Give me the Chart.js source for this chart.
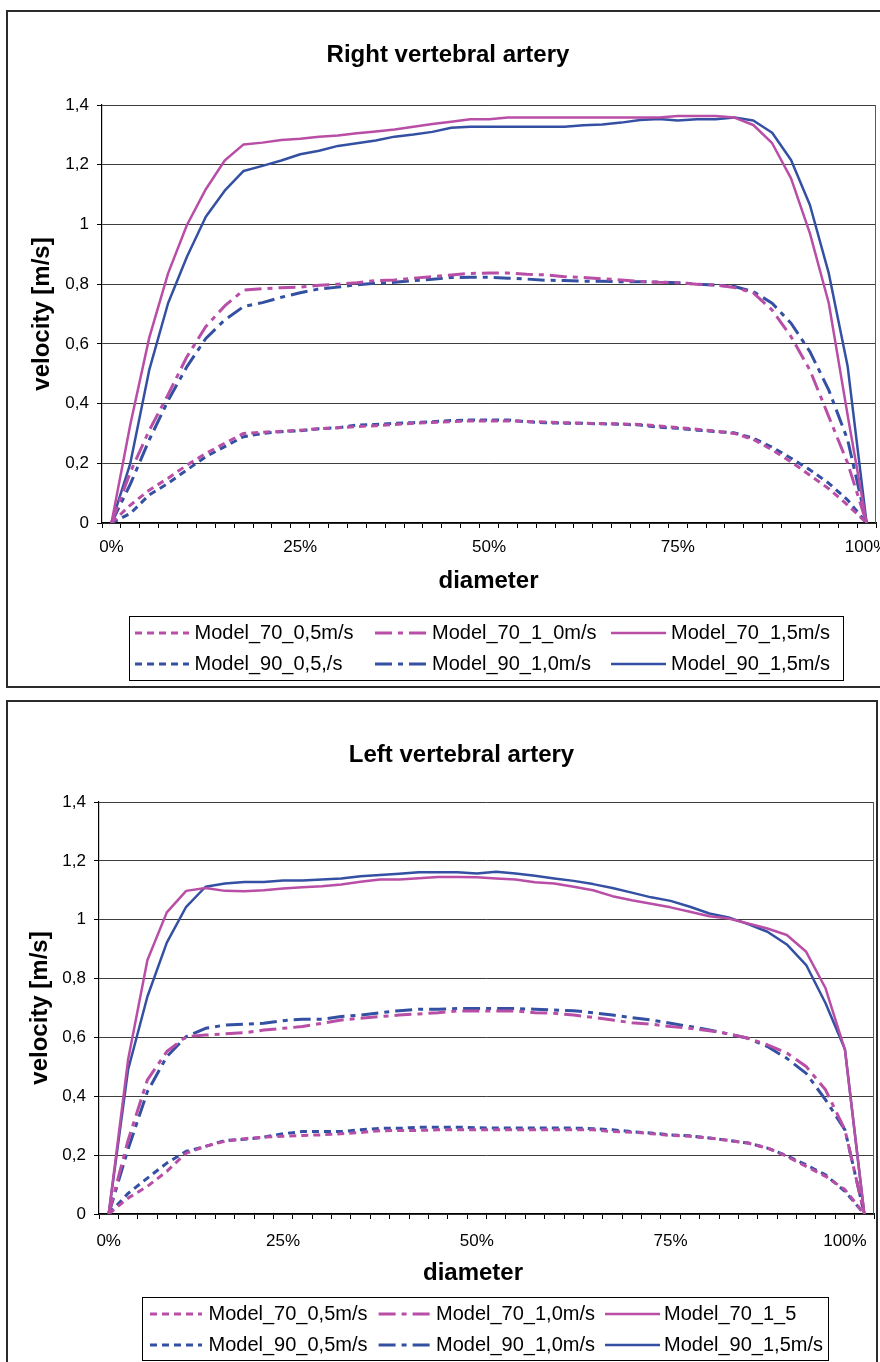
<!DOCTYPE html>
<html>
<head>
<meta charset="utf-8">
<title>Vertebral artery velocity profiles</title>
<script src="https://cdn.jsdelivr.net/npm/chart.js@4.4.1/dist/chart.umd.min.js"></script>
<style>
  html, body { margin: 0; padding: 0; background: #fff; }
  body { width: 880px; height: 1362px; position: relative; overflow: hidden; }
  .frame { position: absolute; border: 2px solid #2b2b2b; box-sizing: border-box; }
  #frameRight { left: 6px; top: 10px; width: 900px; height: 678px; }
  #frameLeft { left: 6px; top: 700px; width: 872px; height: 720px; }
  .panel { position: absolute; left: 0; width: 880px; }
  #panelRight { top: 0; height: 690px; }
  #panelLeft { top: 690px; height: 672px; }
  canvas { display: block; }
</style>
</head>
<body>
<div class="frame" id="frameRight"></div>
<div class="frame" id="frameLeft"></div>
<div class="panel" id="panelRight"><canvas id="rightChart" width="880" height="690"></canvas></div>
<div class="panel" id="panelLeft"><canvas id="leftChart" width="880" height="672"></canvas></div>
<script>
// ---- Right vertebral artery: 41 samples across the diameter ----
const rightTickLabels = ['0%', '25%', '50%', '75%', '100%'];
const rightTickIndex = [0, 10, 20, 30, 40];
const rightSeriesNames = ['Model_70_0,5m/s', 'Model_70_1_0m/s', 'Model_70_1,5m/s',
                          'Model_90_0,5,/s', 'Model_90_1,0m/s', 'Model_90_1,5m/s'];
const rightM70v05 = [0, 0.06, 0.11, 0.15, 0.194, 0.233, 0.267, 0.30, 0.304, 0.307,
  0.311, 0.316, 0.319, 0.323, 0.326, 0.33, 0.334, 0.337, 0.339, 0.342,
  0.342, 0.342, 0.34, 0.338, 0.336, 0.334, 0.333, 0.332, 0.33, 0.325,
  0.32, 0.314, 0.308, 0.30, 0.28, 0.245, 0.205, 0.16, 0.115, 0.06, 0];
const rightM70v10 = [0, 0.17, 0.31, 0.43, 0.557, 0.658, 0.727, 0.78, 0.785, 0.788,
  0.79, 0.796, 0.80, 0.805, 0.812, 0.814, 0.82, 0.825, 0.831, 0.836,
  0.837, 0.837, 0.833, 0.831, 0.825, 0.822, 0.818, 0.814, 0.809, 0.806,
  0.805, 0.80, 0.797, 0.789, 0.771, 0.713, 0.624, 0.512, 0.356, 0.2, 0];
const rightM70v15 = [0, 0.33, 0.62, 0.836, 0.998, 1.118, 1.214, 1.268, 1.274, 1.283,
  1.287, 1.294, 1.298, 1.305, 1.311, 1.318, 1.327, 1.336, 1.344, 1.352,
  1.352, 1.358, 1.358, 1.358, 1.358, 1.358, 1.358, 1.358, 1.358, 1.358,
  1.363, 1.363, 1.363, 1.358, 1.333, 1.272, 1.154, 0.97, 0.736, 0.36, 0];
const rightM90v05 = [0, 0.032, 0.094, 0.133, 0.178, 0.222, 0.256, 0.289, 0.30, 0.306,
  0.309, 0.316, 0.319, 0.328, 0.33, 0.334, 0.336, 0.339, 0.343, 0.345,
  0.345, 0.345, 0.339, 0.336, 0.334, 0.334, 0.332, 0.331, 0.328, 0.321,
  0.317, 0.311, 0.306, 0.302, 0.284, 0.254, 0.217, 0.178, 0.133, 0.077, 0];
const rightM90v10 = [0, 0.13, 0.278, 0.41, 0.524, 0.618, 0.68, 0.725, 0.738, 0.756,
  0.771, 0.784, 0.79, 0.798, 0.803, 0.806, 0.812, 0.816, 0.822, 0.823,
  0.823, 0.82, 0.817, 0.813, 0.812, 0.81, 0.81, 0.808, 0.808, 0.807,
  0.805, 0.80, 0.797, 0.792, 0.775, 0.736, 0.669, 0.574, 0.445, 0.278, 0];
const rightM90v15 = [0, 0.2, 0.512, 0.736, 0.892, 1.026, 1.113, 1.179, 1.196, 1.214,
  1.235, 1.247, 1.263, 1.272, 1.281, 1.294, 1.301, 1.31, 1.324, 1.327,
  1.327, 1.327, 1.327, 1.327, 1.327, 1.332, 1.335, 1.341, 1.35, 1.353,
  1.348, 1.352, 1.352, 1.358, 1.348, 1.307, 1.216, 1.065, 0.836, 0.524, 0];

// ---- Left vertebral artery: 40 samples across the diameter ----
const leftTickLabels = ['0%', '25%', '50%', '75%', '100%'];
const leftTickIndex = [0, 9, 19, 29, 38];
const leftSeriesNames = ['Model_70_0,5m/s', 'Model_70_1,0m/s', 'Model_70_1_5',
                         'Model_90_0,5m/s', 'Model_90_1,0m/s', 'Model_90_1,5m/s'];
const leftM70v05 = [0, 0.054, 0.094, 0.145, 0.207, 0.23, 0.247, 0.256, 0.261, 0.264,
  0.267, 0.269, 0.273, 0.277, 0.283, 0.284, 0.284, 0.286, 0.286, 0.286,
  0.286, 0.286, 0.286, 0.286, 0.286, 0.286, 0.28, 0.278, 0.273, 0.267,
  0.264, 0.258, 0.25, 0.241, 0.224, 0.196, 0.162, 0.128, 0.083, 0];
const leftM70v10 = [0, 0.25, 0.456, 0.552, 0.603, 0.608, 0.612, 0.616, 0.625, 0.631,
  0.637, 0.648, 0.659, 0.665, 0.671, 0.676, 0.68, 0.684, 0.69, 0.69,
  0.69, 0.69, 0.684, 0.682, 0.676, 0.668, 0.659, 0.65, 0.645, 0.637,
  0.631, 0.623, 0.612, 0.597, 0.575, 0.547, 0.501, 0.422, 0.286, 0];
const leftM70v15 = [0, 0.524, 0.863, 1.025, 1.098, 1.108, 1.098, 1.097, 1.10, 1.106,
  1.11, 1.114, 1.12, 1.129, 1.137, 1.137, 1.141, 1.145, 1.145, 1.144,
  1.14, 1.137, 1.127, 1.123, 1.112, 1.10, 1.08, 1.066, 1.054, 1.042,
  1.027, 1.012, 1.004, 0.987, 0.97, 0.948, 0.891, 0.767, 0.558, 0];
const leftM90v05 = [0, 0.07, 0.122, 0.173, 0.213, 0.23, 0.25, 0.254, 0.261, 0.273,
  0.28, 0.28, 0.28, 0.286, 0.291, 0.291, 0.295, 0.295, 0.295, 0.293,
  0.292, 0.292, 0.292, 0.292, 0.292, 0.29, 0.286, 0.28, 0.275, 0.269,
  0.266, 0.258, 0.25, 0.241, 0.224, 0.198, 0.167, 0.133, 0.077, 0];
const leftM90v10 = [0, 0.22, 0.416, 0.535, 0.603, 0.631, 0.642, 0.645, 0.648, 0.657,
  0.662, 0.662, 0.671, 0.676, 0.684, 0.691, 0.696, 0.696, 0.698, 0.698,
  0.698, 0.698, 0.696, 0.693, 0.691, 0.684, 0.676, 0.667, 0.659, 0.648,
  0.637, 0.625, 0.612, 0.597, 0.569, 0.529, 0.478, 0.388, 0.286, 0];
const leftM90v15 = [0, 0.49, 0.739, 0.922, 1.044, 1.112, 1.123, 1.128, 1.128, 1.133,
  1.133, 1.137, 1.14, 1.148, 1.152, 1.156, 1.161, 1.161, 1.161, 1.157,
  1.163, 1.157, 1.149, 1.14, 1.132, 1.121, 1.108, 1.092, 1.076, 1.064,
  1.044, 1.021, 1.008, 0.985, 0.959, 0.916, 0.846, 0.716, 0.56, 0];

// ---- shared velocity axis ----
const yTickLabels = ['0', '0,2', '0,4', '0,6', '0,8', '1', '1,2', '1,4'];

// ---- look ----
const FAMILY = "'Liberation Sans', Arial, Helvetica, sans-serif";
const MAGENTA = '#B94EA7';
const BLUE = '#3450A2';
const DOTTED = [7, 5];
const DASH_DOT = [17, 6, 5, 6];
const lineLooks = [
  { color: MAGENTA, dash: DOTTED, width: 3 },
  { color: MAGENTA, dash: DASH_DOT, width: 3 },
  { color: MAGENTA, dash: [], width: 2.5 },
  { color: BLUE, dash: DOTTED, width: 3 },
  { color: BLUE, dash: DASH_DOT, width: 3 },
  { color: BLUE, dash: [], width: 2.5 }
];

Chart.defaults.font.family = FAMILY;
Chart.defaults.color = '#000';

// category labels: blank except at the marked positions
function categoryLabels(count, at, text) {
  const out = new Array(count).fill('');
  at.forEach((idx, k) => { out[idx] = text[k]; });
  return out;
}

function buildDatasets(names, series) {
  return series.map((values, k) => ({
    label: names[k],
    data: values,
    borderColor: lineLooks[k].color,
    backgroundColor: lineLooks[k].color,
    borderDash: lineLooks[k].dash,
    borderWidth: lineLooks[k].width,
    borderCapStyle: 'butt',
    borderJoinStyle: 'round',
    pointRadius: 0,
    pointHoverRadius: 0,
    tension: 0,
    fill: false
  }));
}

// right edge of the plot area
const plotEdge = {
  id: 'plotEdge',
  beforeDatasetsDraw(chart) {
    const { ctx, chartArea: { top, right, bottom } } = chart;
    ctx.save();
    ctx.strokeStyle = '#5a5a5a';
    ctx.lineWidth = 1;
    ctx.beginPath();
    ctx.moveTo(right - 0.5, top);
    ctx.lineTo(right - 0.5, bottom);
    ctx.stroke();
    ctx.restore();
  }
};

// heading and horizontal axis caption
const captions = {
  id: 'captions',
  afterDraw(chart, args, opts) {
    const ctx = chart.ctx;
    ctx.save();
    ctx.fillStyle = '#000';
    ctx.textAlign = 'center';
    ctx.textBaseline = 'middle';
    (opts.items || []).forEach(it => {
      ctx.font = it.font;
      ctx.fillText(it.text, it.x, it.y);
    });
    ctx.restore();
  }
};

// boxed legend laid out in a 3 x 2 grid
const legendGrid = {
  id: 'legendGrid',
  afterDraw(chart, args, o) {
    if (!o.box) return;
    const ctx = chart.ctx;
    ctx.save();
    ctx.strokeStyle = '#000';
    ctx.lineWidth = 1;
    const [x0, y0, x1, y1] = o.box;
    ctx.strokeRect(Math.round(x0) + 0.5, Math.round(y0) + 0.5, Math.round(x1 - x0), Math.round(y1 - y0));
    ctx.font = o.font;
    ctx.textAlign = 'left';
    ctx.textBaseline = 'middle';
    ctx.fillStyle = '#000';
    chart.data.datasets.forEach((ds, k) => {
      const col = o.cols[k % 3];
      const y = o.rows[Math.floor(k / 3)];
      ctx.save();
      ctx.strokeStyle = ds.borderColor;
      ctx.lineWidth = ds.borderWidth;
      ctx.setLineDash(ds.borderDash || []);
      ctx.beginPath();
      ctx.moveTo(col[0], y);
      ctx.lineTo(col[1], y);
      ctx.stroke();
      ctx.restore();
      ctx.fillText(ds.label, col[2], y);
    });
    ctx.restore();
  }
};

function makeChart(canvasId, setup) {
  const labels = categoryLabels(setup.count, setup.tickIndex, setup.tickLabels);
  return new Chart(document.getElementById(canvasId), {
    type: 'line',
    data: { labels, datasets: buildDatasets(setup.names, setup.series) },
    plugins: [plotEdge, captions, legendGrid],
    options: {
      responsive: false,
      animation: false,
      devicePixelRatio: 1,
      events: [],
      layout: { autoPadding: false, padding: setup.padding },
      plugins: {
        legend: { display: false },
        tooltip: { enabled: false },
        title: { display: false },
        captions: { items: setup.captions },
        legendGrid: setup.legend
      },
      scales: {
        x: {
          type: 'category',
          offset: true,
          grid: { offset: true, drawOnChartArea: false, drawTicks: true, tickLength: 5,
                  color: '#000', tickColor: '#000', lineWidth: 1 },
          border: { display: true, color: '#000', width: 1.2 },
          ticks: { autoSkip: false, maxRotation: 0, minRotation: 0, padding: setup.xTickPad,
                   color: '#000', font: { size: 17 } },
          afterFit(s) { s.height = 60; s.paddingLeft = 0; s.paddingRight = 0; }
        },
        y: {
          min: 0,
          max: 1.4,
          ticks: { stepSize: 0.2, padding: 8, color: '#000', font: { size: 17 },
                   callback: (v, i) => yTickLabels[i] },
          grid: { color: '#3c3c3c', lineWidth: 1, tickLength: 5, tickColor: '#000' },
          border: { color: '#000', width: 1.2 },
          title: { display: true, text: 'velocity [m/s]', color: '#000',
                   font: { size: 24, weight: 'bold' }, padding: { top: setup.yTitlePad, bottom: 0 } },
          afterFit(s) { s.width = setup.yWidth; s.paddingTop = 0; s.paddingBottom = 0; }
        }
      }
    }
  });
}

const boldCaption = 'bold 24px ' + FAMILY;
const legendFont = '20px ' + FAMILY;

makeChart('rightChart', {
  count: rightM70v05.length,
  tickIndex: rightTickIndex,
  tickLabels: rightTickLabels,
  names: rightSeriesNames,
  series: [rightM70v05, rightM70v10, rightM70v15, rightM90v05, rightM90v10, rightM90v15],
  padding: { left: 0, right: 4, top: 105, bottom: 107 },
  yWidth: 102,
  yTitlePad: 28,
  xTickPad: 9,
  captions: [
    { text: 'Right vertebral artery', x: 448, y: 55.5, font: boldCaption },
    { text: 'diameter', x: 488.5, y: 581, font: boldCaption }
  ],
  legend: {
    box: [129, 616, 843, 680],
    rows: [633, 664],
    cols: [[135, 189, 194.5], [375, 427, 432], [611, 666, 671]],
    font: legendFont
  }
});

makeChart('leftChart', {
  count: leftM70v05.length,
  tickIndex: leftTickIndex,
  tickLabels: leftTickLabels,
  names: leftSeriesNames,
  series: [leftM70v05, leftM70v10, leftM70v15, leftM90v05, leftM90v10, leftM90v15],
  padding: { left: 0, right: 6, top: 112, bottom: 88 },
  yWidth: 99,
  yTitlePad: 26,
  xTickPad: 12,
  captions: [
    { text: 'Left vertebral artery', x: 461.5, y: 65.5, font: boldCaption },
    { text: 'diameter', x: 473, y: 583, font: boldCaption }
  ],
  legend: {
    box: [142, 607, 828, 670],
    rows: [624, 655],
    cols: [[150, 202, 208.5], [378.6, 431, 436], [605, 660, 664]],
    font: legendFont
  }
});
</script>
</body>
</html>
